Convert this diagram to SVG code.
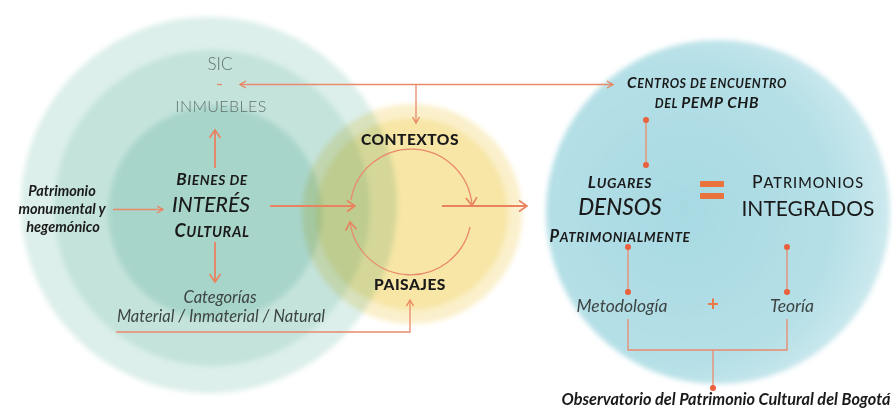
<svg xmlns="http://www.w3.org/2000/svg" width="894" height="410" viewBox="0 0 894 410">
<defs>
<filter id="soft" x="-10%" y="-10%" width="120%" height="120%"><feGaussianBlur stdDeviation="2.5"/></filter>
<marker id="ah" markerUnits="userSpaceOnUse" markerWidth="14" markerHeight="14" refX="11" refY="7" orient="auto"><path d="M3,1.5 L11,7 L3,12.5" fill="none" stroke="#e8825f" stroke-width="1.6"/></marker>
<marker id="ahs" markerUnits="userSpaceOnUse" markerWidth="10" markerHeight="10" refX="8" refY="5" orient="auto"><path d="M2,1.5 L8,5 L2,8.5" fill="none" stroke="#e8825f" stroke-width="1.3"/></marker>
<radialGradient id="rg" cx="0.4" cy="0.5" r="0.6"><stop offset="0" stop-color="#a7d9e2"/><stop offset="0.75" stop-color="#b6e0e7"/><stop offset="1" stop-color="#cde9ee"/></radialGradient>
</defs>
<style>
.ln{fill:none;stroke:#e8825f;stroke-width:1.8}
.tl{fill:none;stroke:#e98a6c;stroke-width:1.3}
.dot{fill:#e8603c}
.gray{font-family:Lato,"Liberation Sans",sans-serif;fill:#62726f;text-anchor:middle;font-weight:300}
.bk{font-family:Lato,"Liberation Sans",sans-serif;fill:#1a1a1a;text-anchor:middle}
.sc{font-style:italic;font-weight:700}
.it{font-family:Lato,"Liberation Sans",sans-serif;fill:#3d4544;text-anchor:middle;font-style:italic}
</style>
<rect width="894" height="410" fill="#ffffff"/>
<g id="backgrounds" filter="url(#soft)">
<circle cx="209" cy="205" r="188" fill="#dcefea"/>
<circle cx="212" cy="208" r="158" fill="#c4e3db"/>
<circle cx="215" cy="213" r="107" fill="#a8d5ca"/>
<g style="mix-blend-mode:multiply">
<circle cx="412" cy="214" r="110" fill="#fbf0cc"/>
<circle cx="412" cy="214" r="96" fill="#f7e6a6"/>
</g>
<circle cx="718" cy="212" r="172" fill="url(#rg)"/>
</g>
<g id="connectors">
<line class="tl" x1="217" y1="84.5" x2="222" y2="84.5"/>
<line class="tl" x1="416" y1="84.5" x2="240" y2="84.5" marker-end="url(#ahs)"/>
<line class="tl" x1="416" y1="84.5" x2="613" y2="84.5" marker-end="url(#ahs)"/>
<line class="tl" x1="416" y1="84.5" x2="416" y2="123" marker-end="url(#ahs)"/>
<line class="ln" x1="215" y1="168" x2="215" y2="130" marker-end="url(#ah)"/>
<line class="ln" x1="215" y1="242" x2="215" y2="282" marker-end="url(#ah)"/>
<line class="tl" x1="113" y1="209.5" x2="163" y2="209.5" marker-end="url(#ahs)"/>
<line class="ln" x1="270" y1="206" x2="355" y2="206" marker-end="url(#ah)"/>
<line class="ln" x1="442" y1="206" x2="527" y2="206" marker-end="url(#ah)"/>
<path class="tl" d="M351,200 A61,61 0 0 1 472,205.5" marker-end="url(#ah)"/>
<path class="tl" d="M470,227 A61,61 0 0 1 350,222" marker-end="url(#ah)"/>
<polyline class="tl" points="116,332 410,332 410,300" marker-end="url(#ahs)"/>
<line class="tl" x1="646" y1="120" x2="646" y2="165"/>
<circle class="dot" cx="646" cy="120" r="3"/>
<circle class="dot" cx="646" cy="165" r="3"/>
<line class="tl" x1="628" y1="247" x2="628" y2="292"/>
<circle class="dot" cx="628" cy="247" r="3"/>
<circle class="dot" cx="628" cy="292" r="3"/>
<line class="tl" x1="787" y1="247" x2="787" y2="292"/>
<circle class="dot" cx="787" cy="247" r="3"/>
<circle class="dot" cx="787" cy="292" r="3"/>
<polyline class="tl" points="628,319 628,350 787,350 787,319"/>
<line class="tl" x1="713" y1="350" x2="713" y2="388"/>
<circle class="dot" cx="713" cy="388" r="3"/>
</g>
<g id="sic"><text class="gray" x="220" y="70" font-size="17">SIC</text></g>
<g id="inmuebles"><text class="gray" x="221" y="112" font-size="16" letter-spacing="0.4">INMUEBLES</text></g>
<g id="bienes">
<text class="bk sc" x="212" y="185" letter-spacing="0.6"><tspan font-size="17">B</tspan><tspan font-size="13.8">IENES DE</tspan></text>
<text class="bk" x="211" y="212" font-size="21" font-style="italic" font-weight="500">INTERÉS</text>
<text class="bk sc" x="212" y="237" letter-spacing="0.6"><tspan font-size="18">C</tspan><tspan font-size="14.5">ULTURAL</tspan></text>
</g>
<g id="patrimonio-monumental">
<text class="bk" font-size="14.5" font-weight="700" font-style="italic"><tspan x="62" y="196">Patrimonio</tspan><tspan x="62" y="214">monumental y</tspan><tspan x="63" y="232">hegemónico</tspan></text>
</g>
<g id="categorias">
<text class="it" x="220" y="303" font-size="16.5" font-style="normal">Categorías</text>
<text class="it" x="221" y="322" font-size="16.5">Material / Inmaterial / Natural</text>
</g>
<g id="contextos"><text class="bk" x="410" y="145" font-size="15.5" font-weight="900" letter-spacing="0.5">CONTEXTOS</text></g>
<g id="paisajes"><text class="bk" x="410" y="290" font-size="15.5" font-weight="900" letter-spacing="0.5">PAISAJES</text></g>
<g id="centros">
<text class="bk sc" x="707" y="88" letter-spacing="0.6"><tspan font-size="15.5">C</tspan><tspan font-size="12.5">ENTROS DE ENCUENTRO</tspan></text>
<text class="bk sc" x="707" y="108" letter-spacing="0.6"><tspan font-size="12.5">DEL </tspan><tspan font-size="15.5">PEMP CHB</tspan></text>
</g>
<g id="lugares">
<text class="bk sc" x="620" y="188" letter-spacing="0.7"><tspan font-size="17">L</tspan><tspan font-size="14">UGARES</tspan></text>
<text class="bk" x="620" y="215" font-size="22.5" font-style="italic" font-weight="500">DENSOS</text>
<text class="bk sc" x="620" y="242" letter-spacing="0.6"><tspan font-size="16.5">P</tspan><tspan font-size="13.5">ATRIMONIALMENTE</tspan></text>
</g>
<g id="igual">
<rect x="700" y="181" width="24" height="6" rx="1" fill="#e8743b"/>
<rect x="700" y="193" width="24" height="6" rx="1" fill="#e8743b"/>
</g>
<g id="patrimonios">
<text class="bk" x="808" y="188" font-weight="500" letter-spacing="1"><tspan font-size="17.5">P</tspan><tspan font-size="14.5">ATRIMONIOS</tspan></text>
<text class="bk" x="808" y="216" font-size="21" font-weight="400">INTEGRADOS</text>
</g>
<g id="metodologia"><text class="it" x="622" y="312" font-size="17.5">Metodología</text></g>
<g id="mas"><text x="713" y="311" font-family="Lato,'Liberation Sans',sans-serif" font-size="20" font-weight="700" fill="#ea7a45" text-anchor="middle">+</text></g>
<g id="teoria"><text class="it" x="792" y="312" font-size="17.5">Teoría</text></g>
<g id="observatorio"><text class="bk" x="726" y="405" font-size="16.3" font-weight="700" font-style="italic">Observatorio del Patrimonio Cultural del Bogotá</text></g>
</svg>
